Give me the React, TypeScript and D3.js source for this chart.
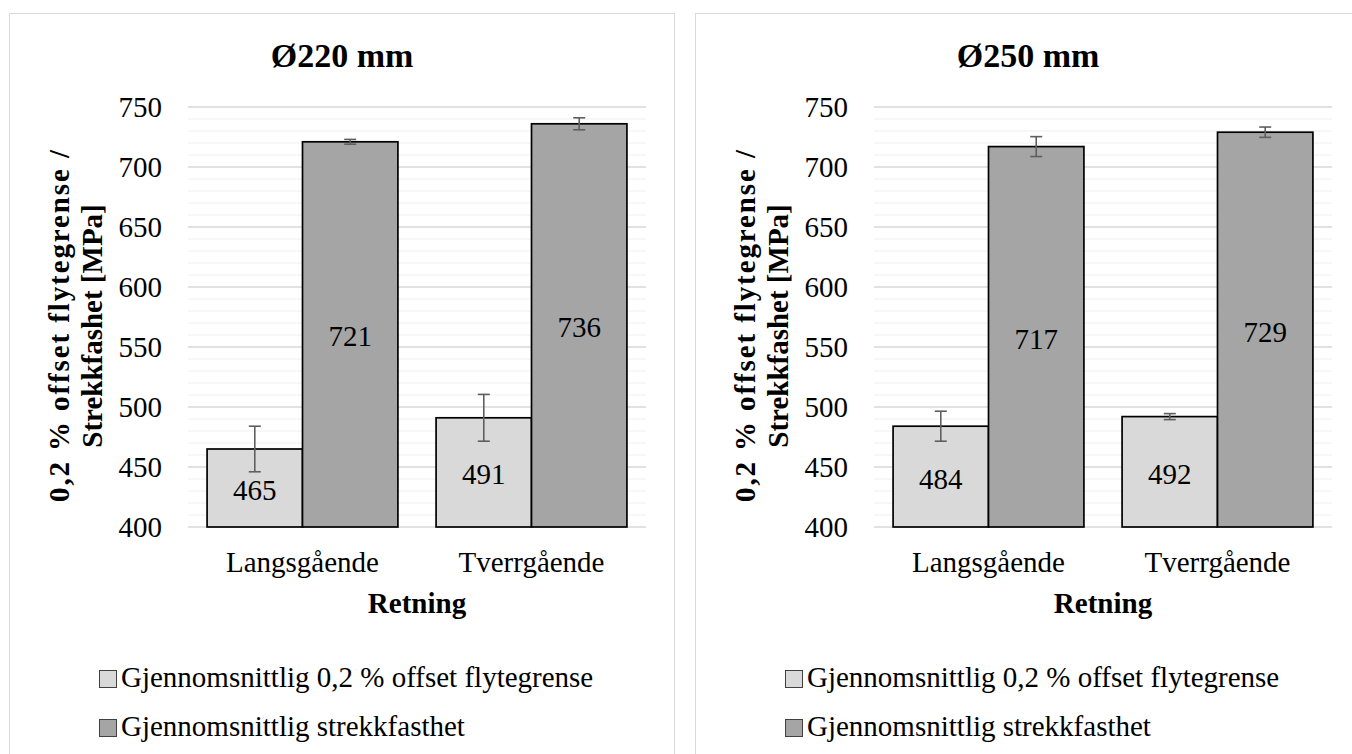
import React from "react";
import * as d3 from "d3";

const categories = ["Langsgående", "Tverrgående"];
const seriesNames = ["Gjennomsnittlig 0,2 % offset flytegrense", "Gjennomsnittlig strekkfasthet"];
const seriesColors = ["#d9d9d9", "#a5a5a5"];

const titles = ["Ø220 mm", "Ø250 mm"];

// Ø220 mm
const yield220 = [465, 491];
const yield220Err = [19, 19.5];
const tensile220 = [721, 736];
const tensile220Err = [2, 5];

// Ø250 mm
const yield250 = [484, 492];
const yield250Err = [12.5, 2.5];
const tensile250 = [717, 729];
const tensile250Err = [8.3, 4.3];

const yTicks = [400, 450, 500, 550, 600, 650, 700, 750];
const yMinorStep = 10;
const yTitleLines = ["0,2 % offset flytegrense /", "Strekkfashet [MPa]"];
const xTitle = "Retning";

const FONT = '"Liberation Serif", "Times New Roman", "DejaVu Serif", serif';

type PanelProps = {
  dx: number;
  title: string;
  yieldV: number[];
  yieldE: number[];
  tensV: number[];
  tensE: number[];
};

const txt = (size: number, bold = false): React.CSSProperties => ({
  fontFamily: FONT,
  fontSize: size,
  fontWeight: bold ? 700 : 400,
});

function Panel({ dx, title, yieldV, yieldE, tensV, tensE }: PanelProps) {
  const plotL = 188;
  const plotR = 646;
  const plotT = 107;
  const plotB = 527;
  const y = d3.scaleLinear().domain([400, 750]).range([plotB, plotT]);
  const xCat = d3.scaleBand<string>().domain(categories).range([plotL, plotR]).padding(0);
  const gap = 0.4;
  const barW = xCat.bandwidth() / (seriesNames.length + gap);
  const xSer = d3
    .scaleBand<number>()
    .domain(d3.range(seriesNames.length))
    .range([0, barW * seriesNames.length])
    .padding(0);

  const minor = d3.range(400, 750 + 0.001, yMinorStep).filter((v) => !yTicks.includes(v));
  const values = [yieldV, tensV];
  const errs = [yieldE, tensE];

  return (
    <g transform={`translate(${dx},0)`}>
      <rect x={9.5} y={13.5} width={665} height={780} fill="#fff" stroke="#d9d9d9" strokeWidth={1} />
      <text x={342} y={67} textAnchor="middle" style={txt(34, true)} fill="#000">
        {title}
      </text>
      {minor.map((v) => (
        <line key={"m" + v} x1={plotL} x2={plotR} y1={y(v)} y2={y(v)} stroke="#efefef" strokeWidth={1} />
      ))}
      {yTicks.map((v) => (
        <line key={"g" + v} x1={plotL} x2={plotR} y1={y(v)} y2={y(v)} stroke="#d9d9d9" strokeWidth={1.3} />
      ))}
      {yTicks.map((v) => (
        <text key={"t" + v} x={162} y={y(v)} textAnchor="end" dominantBaseline="central" style={txt(29)} fill="#000">
          {v}
        </text>
      ))}
      {categories.map((c, ci) => {
        const groupStart = xCat(c)! + xCat.bandwidth() / 2 - barW;
        return (
          <g key={c}>
            {values.map((vals, si) => {
              const x0 = groupStart + xSer(si)!;
              const v = vals[ci];
              const e = errs[si][ci];
              const cx = x0 + barW / 2;
              return (
                <g key={si}>
                  <rect
                    x={x0}
                    y={y(v)}
                    width={barW}
                    height={y(400) - y(v)}
                    fill={seriesColors[si]}
                    stroke="#000"
                    strokeWidth={1.7}
                  />
                  <g stroke="#5f5f5f" strokeWidth={1.6}>
                    <line x1={cx} x2={cx} y1={y(v + e)} y2={y(v - e)} />
                    <line x1={cx - 6} x2={cx + 6} y1={y(v + e)} y2={y(v + e)} />
                    <line x1={cx - 6} x2={cx + 6} y1={y(v - e)} y2={y(v - e)} />
                  </g>
                  <text
                    x={cx}
                    y={(y(v) + y(400)) / 2 + 2}
                    textAnchor="middle"
                    dominantBaseline="central"
                    style={txt(29)}
                    fill="#000"
                  >
                    {Math.round(v)}
                  </text>
                </g>
              );
            })}
            <text x={xCat(c)! + xCat.bandwidth() / 2} y={572} textAnchor="middle" style={txt(29)} fill="#000">
              {c}
            </text>
          </g>
        );
      })}
      <text x={(plotL + plotR) / 2} y={613} textAnchor="middle" style={txt(29, true)} fill="#000">
        {xTitle}
      </text>
      <g transform={`translate(69,326) rotate(-90)`}>
        <text x={0} y={0} textAnchor="middle" style={txt(29, true)} fill="#000" textLength={352} lengthAdjust="spacing">
          {yTitleLines[0]}
        </text>
        <text x={0} y={33} textAnchor="middle" style={txt(29, true)} fill="#000">
          {yTitleLines[1]}
        </text>
      </g>
      {seriesNames.map((s, i) => (
        <g key={s} transform={`translate(0,${i * 49})`}>
          <rect x={99.5} y={670.5} width={17} height={17} fill={seriesColors[i]} stroke="#404040" strokeWidth={1} />
          <text x={121} y={687} style={txt(29)} fill="#000">
            {s}
          </text>
        </g>
      ))}
    </g>
  );
}

export default function App() {
  return (
    <div style={{ position: "fixed", left: 0, top: 0 }}>
      <svg width={1352} height={754} style={{ display: "block", background: "#fff" }}>
        <Panel dx={0} title={titles[0]} yieldV={yield220} yieldE={yield220Err} tensV={tensile220} tensE={tensile220Err} />
        <Panel dx={686} title={titles[1]} yieldV={yield250} yieldE={yield250Err} tensV={tensile250} tensE={tensile250Err} />
      </svg>
    </div>
  );
}
